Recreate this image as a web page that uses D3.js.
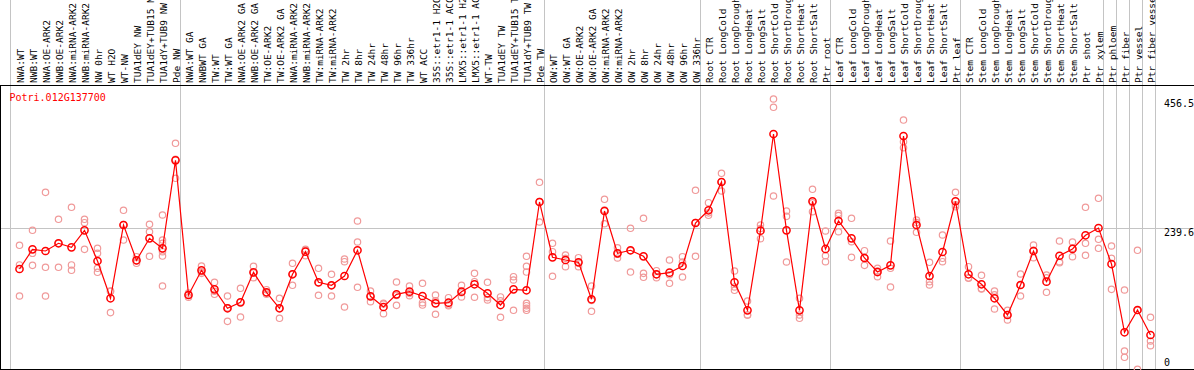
<!DOCTYPE html>
<html lang="en">

<head>
    <meta charset="UTF-8">
    <title>Potri.012G137700</title>
    <style>
        body { margin: 0; background: #fff; }
        text { font-family: "DejaVu Sans Mono", monospace; }
    </style>
</head>

<body>
    <script src='https://d3js.org/d3.v7.min.js'></script>
    <script>
        // Sample names, in plot order
        const categories = [
            "NWA:WT", "NWB:WT", "NWA:OE-ARK2", "NWB:OE-ARK2", "NWA:miRNA-ARK2", "NWB:miRNA-ARK2",
            "NW 0hr", "WT H2O", "WT-NW", "TUA1dEY NW", "TUA1dEY+TUB15 NW", "TUA1dY+TUB9 NW", "Pde NW",
            "NWA:WT GA", "NWBWT GA", "TW:WT", "TW:WT GA", "NWA:OE-ARK2 GA", "NWB:OE-ARK2 GA",
            "TW:OE-ARK2", "TW:OE-ARK2 GA", "NWA:miRNA-ARK2", "NWB:miRNA-ARK2", "TW:miRNA-ARK2", "TW:miRNA-ARK2",
            "TW 2hr", "TW 8hr", "TW 24hr", "TW 48hr", "TW 96hr", "TW 336hr", "WT ACC",
            "35S::etr1-1 H2O", "35S::etr1-1 ACC", "LMX5::etr1-1 H2O", "LMX5::etr1-1 ACC",
            "WT-TW", "TUA1dEY TW", "TUA1dEY+TUB15 TW", "TUA1dY+TUB9 TW", "Pde TW",
            "OW:WT", "OW:WT GA", "OW:OE-ARK2", "OW:OE-ARK2 GA", "OW:miRNA-ARK2", "OW:miRNA-ARK2",
            "OW 2hr", "OW 8hr", "OW 24hr", "OW 48hr", "OW 96hr", "OW 336hr",
            "Root CTR", "Root LongCold", "Root LongDrought", "Root LongHeat", "Root LongSalt",
            "Root ShortCold", "Root ShortDrought", "Root ShortHeat", "Root ShortSalt", "Ptr root",
            "Leaf CTR", "Leaf LongCold", "Leaf LongDrought", "Leaf LongHeat", "Leaf LongSalt",
            "Leaf ShortCold", "Leaf ShortDrought", "Leaf ShortHeat", "Leaf ShortSalt", "Ptr leaf",
            "Stem CTR", "Stem LongCold", "Stem LongDrought", "Stem LongHeat", "Stem LongSalt",
            "Stem ShortCold", "Stem ShortDrought", "Stem ShortHeat", "Stem ShortSalt", "Ptr shoot",
            "Ptr xylem", "Ptr phloem", "Ptr fiber", "Ptr vessel", "Ptr fiber vessel"
        ];
        // Mean expression per sample
        const means = [
            169.6, 202.8, 200, 213, 206.2, 234.9, 183.1, 120.2, 243.9, 184.3, 221.4, 204.5, 353,
            125.7, 167.4, 135.3, 103.3, 113.4, 164, 130.3, 103.3, 160.7, 198.8, 147.2, 142.1,
            157.8, 201.2, 123.5, 105.5, 126.9, 131.3, 124, 111.7, 112.7, 131.3, 143.8,
            128.6, 108.8, 135.3, 133.7, 282.7,
            189.3, 184.8, 180.9, 118.5, 267.5, 196.1, 201.2, 191, 160.7, 163.4, 174.7, 247.2,
            268.7, 316.4, 147.2, 99.9, 234.2, 397.4, 234.9, 99.9, 283.9, 203.4,
            250.6, 221.4, 188.2, 164.5, 175.8, 394, 243.9, 157.8, 198.3, 283.9,
            160.7, 143.8, 120.2, 92, 142.6, 200, 148.2, 192, 203.4, 226.5,
            238.8, 178, 62.8, 100.4, 58.2
        ];
        // Individual replicate values per sample
        const replicates = [
            [209.6, 176.4, 124], [234.9, 196.1, 175.8], [299, 172.5, 124], [253.5, 213, 172.5],
            [273.7, 176.4, 167.4], [253.5, 247.7, 202.8], [204.5, 196.1, 170.8, 164], [132.5, 132, 96],
            [268.7, 244.5, 218.5], [190.4, 183.3, 179.2], [245, 232.5, 191],
            [260.7, 218.5, 213, 198.8, 191.5, 140.9], [381.7, 354.6, 322.7],
            [129, 126, 122], [174.7, 165, 162.3], [147.2, 132, 126.9], [124, 104, 81.3],
            [137, 114, 88.6], [174.2, 163, 154.9], [134.7, 129.3, 126.9], [120.2, 103.3, 86.4],
            [179.2, 161, 142.1], [202.8, 201.5, 192], [170.8, 146, 125.2], [160.7, 142, 124],
            [186.5, 181.9, 105.5], [250.6, 215.2, 138.7], [132.5, 123.5, 114.4], [111.7, 110.5, 94.2],
            [147.7, 125, 108.3], [140.9, 128.5, 124.5], [145.5, 112.7, 108.8], [125.7, 116, 93.2],
            [121.2, 109.2, 107.7], [142.1, 129.5, 122.4], [162.3, 148.2, 121.9], [147.2, 121.3, 117.3],
            [122.4, 115.9, 88.1], [156.6, 151, 99.9], [191, 174.2, 164.5, 111.7, 107.7, 103.3, 99.9],
            [315.9, 283.3, 248.9],
            [213, 198.8, 157.3], [193.2, 187.7, 173.5], [188.7, 180.5, 173.5], [140.9, 116.4, 98.2],
            [287.2, 269.3, 246], [205.5, 194.6, 188.2], [238.3, 200.8, 164.5], [255.2, 162.3, 155.6],
            [166.7, 160.5, 154.9], [184.8, 159.9, 145.5], [190.4, 181.4, 156.1], [302.4, 248.2, 191],
            [281.5, 264.4, 260.2], [331.1, 316.9, 301.2], [166.2, 139.2, 133.7], [115.6, 92.1, 92],
            [243.9, 238, 220.7], [456.5, 442.5, 292.8], [267.5, 258.5, 181.4], [120.2, 92, 86.4],
            [304.1, 281.3, 266.3], [233.7, 192, 181.9],
            [263.6, 259.6, 232.5], [255.2, 215.7, 189.3], [200.5, 188.3, 175.8], [170.8, 166.1, 156.6],
            [216.9, 170.8, 139.2], [421, 384.4, 374.3], [252.3, 247.9, 231.5], [180.9, 148.2, 142.6],
            [227, 187.7, 181.9], [299, 278, 274.7],
            [173.5, 154.7, 153.9], [159, 136.5, 135.9], [132.5, 126, 102.1], [99.9, 92.6, 83.5],
            [161.2, 142.6, 124], [210.1, 201.2, 188.7], [159.5, 154.8, 130.3], [216.9, 181.9, 180.2],
            [215.2, 204.6, 190.4], [273.7, 213, 192.7],
            [288.9, 219.7, 204.5], [208.4, 187.7, 135.3], [134.2, 31.2, 20.6], [201.2, 100, 0.3],
            [88.1, 48.1, 40.2]
        ];
        // Last sample index of each group (a divider follows it)
        const groupEnds = [12, 40, 52, 62, 72, 83, 84, 85, 86, 87];
        const yTicks = [456.5, 239.6, 0];
        const geneName = "Potri.012G137700";

        // Set Dimensions
        const width = 1194, height = 370;
        const labelBottom = 85.5, plotBottom = 369.5;

        var svg = d3.select("body")
            .append("svg")
            .attr("width", width)
            .attr("height", height);

        let x = d3.scaleBand()
            .domain(d3.range(categories.length))
            .range([11, 1155]);
        const px = i => x(i) + 8.5;

        let y = d3.scaleLinear()
            .domain([0, 456.5])
            .range([plotBottom, 99]);

        // grey dividers
        svg.append("line")
            .attr("x1", x(0) - 0.5).attr("x2", x(0) - 0.5)
            .attr("y1", 0).attr("y2", plotBottom)
            .attr("stroke", "#c4c4c4");
        svg.selectAll(".divider")
            .data(groupEnds)
            .enter()
            .append("line")
            .attr("x1", d => x(d) + x.bandwidth() + 0.5)
            .attr("x2", d => x(d) + x.bandwidth() + 0.5)
            .attr("y1", 0).attr("y2", plotBottom)
            .attr("stroke", "#c4c4c4");
        // mid gridline
        svg.append("line")
            .attr("x1", 0).attr("x2", width)
            .attr("y1", Math.round(y(yTicks[1])) + 0.5).attr("y2", Math.round(y(yTicks[1])) + 0.5)
            .attr("stroke", "#c4c4c4");

        // black frame
        svg.append("line")
            .attr("x1", 0).attr("x2", width)
            .attr("y1", labelBottom).attr("y2", labelBottom)
            .attr("stroke", "black");
        svg.append("line")
            .attr("x1", 0).attr("x2", width)
            .attr("y1", plotBottom).attr("y2", plotBottom)
            .attr("stroke", "black");
        svg.append("line")
            .attr("x1", 0.5).attr("x2", 0.5)
            .attr("y1", labelBottom).attr("y2", plotBottom)
            .attr("stroke", "black");

        // sample labels, reading upwards
        svg.selectAll(".label")
            .data(categories)
            .enter()
            .append("text")
            .attr("transform", (d, i) => "translate(" + (px(i) + 1.5) + "," + 83 + ") rotate(-90)")
            .attr("dy", "0.36em")
            .attr("font-size", "9.5px")
            .attr("fill", "black")
            .text(d => d);

        // y tick labels on the right
        svg.selectAll(".tick")
            .data(yTicks)
            .enter()
            .append("text")
            .attr("x", 1164)
            .attr("y", d => Math.min(y(d) + 8, 366))
            .attr("font-size", "10px")
            .attr("fill", "black")
            .text(d => d);

        svg.append("text")
            .attr("x", 9.5).attr("y", 101)
            .attr("font-size", "10px")
            .attr("fill", "red")
            .text(geneName);

        // replicate points
        let reps = [];
        replicates.forEach((r, i) => r.forEach(v => reps.push({ i: i, v: v })));
        svg.selectAll(".rep")
            .data(reps)
            .enter()
            .append("circle")
            .attr("cx", d => px(d.i))
            .attr("cy", d => y(d.v))
            .attr("r", 3.2)
            .attr("fill", "none")
            .attr("stroke", "#f09a9a")
            .attr("stroke-width", 1.2);

        // mean line
        svg.append("path")
            .datum(means)
            .attr("fill", "none")
            .attr("stroke", "red")
            .attr("stroke-width", 1.2)
            .attr("d", d3.line()
                .x((d, i) => px(i))
                .y(d => y(d)));

        svg.selectAll(".mean")
            .data(means)
            .enter()
            .append("circle")
            .attr("cx", (d, i) => px(i))
            .attr("cy", d => y(d))
            .attr("r", 3.6)
            .attr("fill", "none")
            .attr("stroke", "red")
            .attr("stroke-width", 1.5);
    </script>
</body>

</html>
